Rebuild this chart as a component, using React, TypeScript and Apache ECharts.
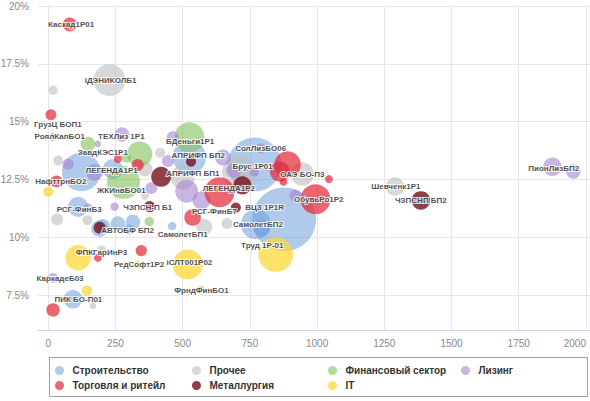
import { useEffect, useRef } from 'react';
import * as echarts from 'echarts';

// Axis ticks
const xTicks = [0, 250, 500, 750, 1000, 1250, 1500, 1750, 2000];
const yTicks = [7.5, 10, 12.5, 15, 17.5, 20];

// Bubbles: [duration (days), yield %, size]
const construction: number[][] = [
  [123, 12.83, 372], [204, 10.49, 49], [259, 10.6, 53], [315, 10.67, 53], [191, 10.38, 69],
  [461, 10.49, 18], [487, 10.13, 9], [111, 11.32, 100], [92, 7.33, 86], [240, 12.95, 100],
  [525, 13.47, 279], [768, 13.15, 729], [772, 10.57, 225], [794, 10.39, 69], [877, 10.78, 1024],
  [300, 10.35, 25],
];
const other: number[][] = [
  [18, 16.36, 22], [228, 16.8, 256], [37, 13.32, 25], [33, 10.78, 36], [166, 7.04, 11],
  [198, 9.43, 25], [416, 13.66, 25], [1290, 12.2, 86], [945, 12.74, 137], [665, 10.6, 30],
  [580, 10.45, 64], [360, 12.96, 56], [710, 12.8, 289], [500, 12.6, 144], [360, 11.8, 16],
  [146, 10.75, 25],
];
const finance: number[][] = [
  [148, 14.04, 53], [290, 13.45, 25], [340, 13.6, 161], [280, 12.38, 272], [376, 10.69, 22],
  [525, 14.33, 225], [568, 7.77, 11],
];
const leasing: number[][] = [
  [17, 14.35, 16], [274, 14.45, 53], [185, 14.04, 11], [74, 13.17, 32], [173, 12.81, 69],
  [383, 12.13, 36], [148, 11.29, 18], [247, 11.33, 18], [18, 8.25, 25], [463, 14.33, 36],
  [445, 13.3, 36], [515, 12.0, 132], [570, 11.6, 81], [650, 13.45, 64], [790, 13.85, 25],
  [920, 11.8, 36], [690, 12.89, 56], [767, 12.82, 20], [1875, 13.05, 86], [1953, 12.85, 53],
];
const retail: number[][] = [
  [80, 19.2, 49], [10, 15.3, 30], [31, 12.42, 36], [259, 13.39, 16], [333, 13.13, 36],
  [185, 9.12, 16], [346, 9.43, 32], [18, 6.87, 45], [537, 10.86, 69], [637, 11.95, 225],
  [890, 13.15, 177], [862, 12.84, 100], [1044, 12.52, 16], [994, 11.65, 225], [875, 12.4, 14],
];
const metals: number[][] = [
  [420, 12.62, 100], [377, 11.33, 32], [191, 10.42, 36], [531, 13.27, 25], [722, 12.25, 81],
  [698, 11.29, 25], [1386, 11.6, 86],
];
const itSector: number[][] = [
  [0, 11.97, 25], [111, 9.12, 161], [333, 8.83, 16], [519, 8.83, 225], [144, 7.7, 28],
  [846, 9.26, 299],
];

// Bond labels: [x, y, name]
const labelPoints: [number, number, string][] = [
  [85, 19.2, 'Каскад1Р01'], [232, 16.8, 'iДЭНИКОЛБ1'], [36, 14.9, 'ГрузЦ БОП1'],
  [43, 14.36, 'РоялКапБО1'], [272, 14.36, 'ТЕХЛиз 1Р1'], [528, 14.15, 'БДеньги1Р1'],
  [203, 13.68, 'ЗавдКЭС1Р1'], [558, 13.55, 'АПРИФП БП2'], [790, 13.86, 'СолЛизБО06'],
  [760, 13.08, 'Брус 1Р01'], [236, 12.88, 'ЛЕГЕНДА1Р1'], [538, 12.75, 'АПРИФП БП1'],
  [945, 12.7, 'ОАЭ БО-П3'], [47, 12.42, 'НафттрнБО2'], [672, 12.1, 'ЛЕГЕНДА1Р2'],
  [272, 12.04, 'ЖКИнвБО01'], [1293, 12.2, 'Шевченк1Р1'], [1386, 11.6, 'ЧЗПСНП БП2'],
  [1880, 13.0, 'ПионЛизБП2'], [1006, 11.65, 'ОбувьРо1Р2'], [115, 11.22, 'РСГ-ФинБ3'],
  [370, 11.3, 'ЧЗПСН-П Б1'], [618, 11.12, 'РСГ-ФинБ7'], [805, 11.3, 'ВЦЗ 1Р1R'],
  [780, 10.55, 'СамолетБП2'], [295, 10.3, 'АВТОБФ БП2'], [500, 10.13, 'СамолетБП1'],
  [796, 9.63, 'Труд 1Р-01'], [198, 9.37, 'ФПКГарИнР3'], [338, 8.83, 'РедСофт1Р2'],
  [525, 8.9, 'iСЛТ001Р02'], [44, 8.21, 'КаркадеБ03'], [570, 7.72, 'ФрндФинБО1'],
  [112, 7.33, 'ПИК БО-П01'],
];

const sectorNames = ['Строительство', 'Прочее', 'Финансовый сектор', 'Лизинг', 'Торговля и ритейл', 'Металлургия', 'IT'];
const sectorData = [construction, other, finance, leasing, retail, metals, itSector];
const sectorColors = ['#6f9fdd', '#bebebe', '#82c05a', '#a584d0', '#e22b3a', '#720a15', '#fcd838'];
const sectorOpacity = [0.55, 0.6, 0.6, 0.6, 0.72, 0.78, 0.75];

export default function App() {
  const ref = useRef<HTMLDivElement>(null);
  useEffect(() => {
    if (!ref.current) return;
    const chart = echarts.init(ref.current, undefined, { renderer: 'svg' });
    const font = 'Liberation Sans, Arial, sans-serif';
    const bubbleSeries = sectorNames.map((name, i) => ({
      name,
      type: 'scatter',
      data: sectorData[i],
      symbolSize: (v: number[]) => 2 * Math.sqrt(v[2]),
      itemStyle: { color: sectorColors[i], opacity: sectorOpacity[i] },
      emphasis: { disabled: true },
      silent: true,
      z: 2 + i * 0.01,
    }));
    const legendCommon = {
      orient: 'vertical',
      top: 365,
      itemWidth: 16,
      itemHeight: 9,
      itemGap: 4,
      padding: 0,
      icon: 'circle',
      selectedMode: false,
      textStyle: { fontSize: 10, fontWeight: 'bold', color: '#333', fontFamily: font, lineHeight: 11 },
    };
    chart.setOption({
      animation: false,
      grid: { left: 38, right: 0, top: 6, bottom: 71, outerBoundsMode: 'none', containLabel: false },
      xAxis: {
        type: 'value',
        min: -38,
        max: 2015,
        axisLine: { show: true, lineStyle: { color: '#ccd6eb' } },
        axisTick: { show: false, customValues: xTicks },
        axisLabel: { customValues: xTicks, color: '#888', fontSize: 10, fontFamily: font, margin: 8, alignMaxLabel: 'right', formatter: (v: number) => String(v) },
        splitLine: { show: true, lineStyle: { color: '#e6e6e6' } },
      },
      yAxis: {
        type: 'value',
        min: 6,
        max: 20,
        axisLine: { show: true, lineStyle: { color: '#e6e6e6' } },
        axisTick: { show: false, customValues: yTicks },
        axisLabel: { customValues: yTicks, color: '#888', fontSize: 10, fontFamily: font, margin: 9, formatter: (v: number) => v + '%' },
        splitLine: { show: true, lineStyle: { color: '#e6e6e6' } },
      },
      legend: [
        { ...legendCommon, left: 55, data: ['Строительство', 'Торговля и ритейл'] },
        { ...legendCommon, left: 192, data: ['Прочее', 'Металлургия'] },
        { ...legendCommon, left: 328, data: ['Финансовый сектор', 'IT'] },
        { ...legendCommon, left: 461, data: ['Лизинг'] },
      ],
      graphic: [
        {
          type: 'rect',
          shape: { x: 49.5, y: 357.5, width: 538, height: 39 },
          style: { fill: 'none', stroke: '#a0a0a0', lineWidth: 1 },
          silent: true,
        },
      ],
      series: [
        ...bubbleSeries,
        {
          name: 'labels',
          type: 'scatter',
          data: labelPoints.map((p) => ({ name: p[2], value: [p[0], p[1]] })),
          symbolSize: 0,
          itemStyle: { color: 'transparent' },
          silent: true,
          z: 10,
          label: {
            show: true,
            position: 'inside',
            formatter: (p: any) => p.name,
            fontSize: 8,
            fontWeight: 'bold',
            fontFamily: font,
            color: '#222',
            textBorderColor: '#fff',
            textBorderWidth: 2,
          },
          emphasis: { disabled: true },
        },
      ],
    });
    return () => chart.dispose();
  }, []);
  return <div ref={ref} style={{ position: 'absolute', left: 0, top: 0, width: 590, height: 401 }} />;
}
